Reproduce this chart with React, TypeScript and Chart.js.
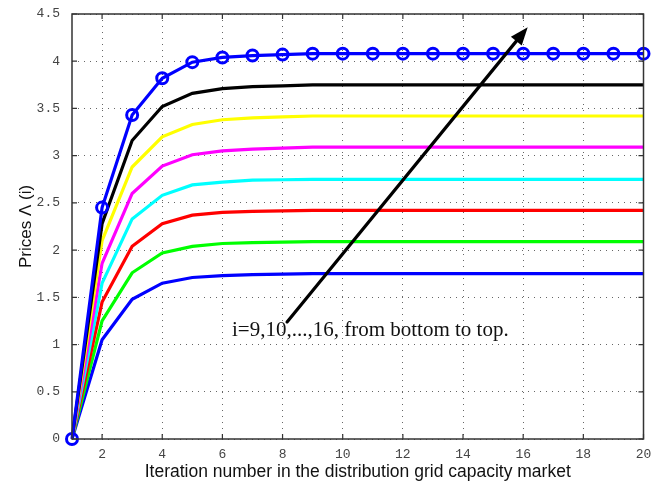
import React, { useEffect, useRef } from "react";
import { Chart, registerables } from "chart.js";

Chart.register(...registerables);

const iterations = [1, 2, 3, 4, 5, 6, 7, 8, 9, 10, 11, 12, 13, 14, 15, 16, 17, 18, 19, 20];
const xTickValues = [2, 4, 6, 8, 10, 12, 14, 16, 18, 20];
const yTickValues = [0, 0.5, 1, 1.5, 2, 2.5, 3, 3.5, 4, 4.5];

const price16 = [0, 2.45, 3.43, 3.82, 3.99, 4.04, 4.06, 4.07, 4.08, 4.08, 4.08, 4.08, 4.08, 4.08, 4.08, 4.08, 4.08, 4.08, 4.08, 4.08];
const price15 = [0, 2.28, 3.16, 3.52, 3.66, 3.71, 3.73, 3.74, 3.75, 3.75, 3.75, 3.75, 3.75, 3.75, 3.75, 3.75, 3.75, 3.75, 3.75, 3.75];
const price14 = [0, 2.1, 2.88, 3.2, 3.33, 3.38, 3.4, 3.41, 3.42, 3.42, 3.42, 3.42, 3.42, 3.42, 3.42, 3.42, 3.42, 3.42, 3.42, 3.42];
const price13 = [0, 1.86, 2.6, 2.89, 3.01, 3.05, 3.07, 3.08, 3.09, 3.09, 3.09, 3.09, 3.09, 3.09, 3.09, 3.09, 3.09, 3.09, 3.09, 3.09];
const price12 = [0, 1.65, 2.33, 2.58, 2.69, 2.72, 2.74, 2.745, 2.75, 2.75, 2.75, 2.75, 2.75, 2.75, 2.75, 2.75, 2.75, 2.75, 2.75, 2.75];
const price11 = [0, 1.45, 2.04, 2.28, 2.37, 2.4, 2.41, 2.415, 2.42, 2.42, 2.42, 2.42, 2.42, 2.42, 2.42, 2.42, 2.42, 2.42, 2.42, 2.42];
const price10 = [0, 1.25, 1.76, 1.97, 2.04, 2.07, 2.08, 2.085, 2.09, 2.09, 2.09, 2.09, 2.09, 2.09, 2.09, 2.09, 2.09, 2.09, 2.09, 2.09];
const price9 = [0, 1.05, 1.48, 1.65, 1.71, 1.73, 1.74, 1.745, 1.75, 1.75, 1.75, 1.75, 1.75, 1.75, 1.75, 1.75, 1.75, 1.75, 1.75, 1.75];

const seriesValues = [price16, price15, price14, price13, price12, price11, price10, price9];
const seriesColors = ["#0000ff", "#000000", "#ffff00", "#ff00ff", "#00ffff", "#ff0000", "#00ff00", "#0000ff"];
const seriesLabels = ["i=16", "i=15", "i=14", "i=13", "i=12", "i=11", "i=10", "i=9"];

const annotationText = "i=9,10,...,16, from bottom to top.";
const arrowFrom = { x: 8.15, y: 1.24 };
const arrowTo = { x: 16.15, y: 4.36 };
const textAnchor = { x: 6.32, y: 1.09 };

const framePlugin = {
  id: "frame",
  afterDraw(chart: any) {
    const { ctx, chartArea } = chart;
    const xs = chart.scales.x;
    const ys = chart.scales.y;
    ctx.save();
    ctx.strokeStyle = "#333";
    ctx.lineWidth = 1.2;
    const t = 5;
    ctx.beginPath();
    xTickValues.forEach((v) => {
      const px = xs.getPixelForValue(v);
      ctx.moveTo(px, chartArea.bottom);
      ctx.lineTo(px, chartArea.bottom - t);
      ctx.moveTo(px, chartArea.top);
      ctx.lineTo(px, chartArea.top + t);
    });
    yTickValues.forEach((v) => {
      const py = ys.getPixelForValue(v);
      ctx.moveTo(chartArea.left, py);
      ctx.lineTo(chartArea.left + t, py);
      ctx.moveTo(chartArea.right, py);
      ctx.lineTo(chartArea.right - t, py);
    });
    ctx.stroke();
    ctx.lineWidth = 1.5;
    ctx.strokeRect(chartArea.left, chartArea.top, chartArea.right - chartArea.left, chartArea.bottom - chartArea.top);
    ctx.restore();
  },
};

const annotationPlugin = {
  id: "arrowNote",
  afterDatasetsDraw(chart: any) {
    const { ctx } = chart;
    const xs = chart.scales.x;
    const ys = chart.scales.y;
    const x0 = xs.getPixelForValue(arrowFrom.x);
    const y0 = ys.getPixelForValue(arrowFrom.y);
    const x1 = xs.getPixelForValue(arrowTo.x);
    const y1 = ys.getPixelForValue(arrowTo.y);
    const ang = Math.atan2(y1 - y0, x1 - x0);
    const headLen = 18;
    const headW = 7;
    ctx.save();
    ctx.strokeStyle = "#000";
    ctx.fillStyle = "#000";
    ctx.lineWidth = 3.2;
    ctx.lineCap = "round";
    ctx.beginPath();
    ctx.moveTo(x0, y0);
    ctx.lineTo(x1 - Math.cos(ang) * headLen * 0.8, y1 - Math.sin(ang) * headLen * 0.8);
    ctx.stroke();
    const bx = x1 - Math.cos(ang) * headLen;
    const by = y1 - Math.sin(ang) * headLen;
    ctx.beginPath();
    ctx.moveTo(x1, y1);
    ctx.lineTo(bx + Math.sin(ang) * headW, by - Math.cos(ang) * headW);
    ctx.lineTo(bx - Math.sin(ang) * headW, by + Math.cos(ang) * headW);
    ctx.closePath();
    ctx.fill();
    const tx = xs.getPixelForValue(textAnchor.x);
    const ty = ys.getPixelForValue(textAnchor.y);
    ctx.font = '21px "Liberation Serif", "DejaVu Serif", serif';
    ctx.textAlign = "left";
    ctx.textBaseline = "alphabetic";
    ctx.fillStyle = "#111";
    ctx.fillText(annotationText, tx, ty);
    ctx.restore();
  },
};

export default function App() {
  const canvasRef = useRef<HTMLCanvasElement | null>(null);

  useEffect(() => {
    if (!canvasRef.current) return;
    const chart = new Chart(canvasRef.current, {
      type: "line",
      data: {
        labels: iterations,
        datasets: seriesValues.map((vals, i) => ({
          label: seriesLabels[i],
          data: vals.map((v, j) => ({ x: iterations[j], y: v })),
          borderColor: seriesColors[i],
          backgroundColor: seriesColors[i],
          borderWidth: 3.2,
          tension: 0,
          clip: i === 0 ? false : undefined,
          pointRadius: i === 0 ? 5.5 : 0,
          pointHoverRadius: i === 0 ? 5.5 : 0,
          pointBorderWidth: 3,
          pointBorderColor: seriesColors[i],
          pointBackgroundColor: "rgba(0,0,0,0)",
        })),
      },
      options: {
        animation: false,
        responsive: true,
        maintainAspectRatio: false,
        layout: { padding: { top: 14, right: 8, left: 0, bottom: 0 } },
        plugins: {
          legend: { display: false },
          tooltip: { enabled: false },
        },
        scales: {
          x: {
            type: "linear",
            min: 1,
            max: 20,
            afterBuildTicks: (scale: any) => {
              scale.ticks = xTickValues.map((v) => ({ value: v }));
            },
            afterFit: (scale: any) => {
              scale.height = 46;
              scale.paddingLeft = 0;
              scale.paddingRight = 0;
            },
            grid: {
              color: "#666",
              lineWidth: 1,
              drawTicks: false,
            },
            border: { display: false, dash: [1, 5] },
            ticks: {
              padding: 8,
              color: "#444",
              font: { family: '"Liberation Mono", "DejaVu Sans Mono", monospace', size: 13 },
              maxRotation: 0,
            },
            title: {
              display: true,
              text: "Iteration number in the distribution grid capacity market",
              color: "#111",
              font: { family: '"Liberation Sans", Arial, sans-serif', size: 17.5 },
              padding: { top: 0, bottom: 2 },
            },
          },
          y: {
            type: "linear",
            min: 0,
            max: 4.5,
            afterBuildTicks: (scale: any) => {
              scale.ticks = yTickValues.map((v) => ({ value: v }));
            },
            afterFit: (scale: any) => {
              scale.width = 72;
              scale.paddingTop = 0;
              scale.paddingBottom = 0;
            },
            grid: {
              color: "#666",
              lineWidth: 1,
              drawTicks: false,
            },
            border: { display: false, dash: [1, 5] },
            ticks: {
              padding: 12,
              color: "#444",
              font: { family: '"Liberation Mono", "DejaVu Sans Mono", monospace', size: 13 },
              callback: (v: any) => String(v),
            },
            title: {
              display: true,
              text: "Prices Λ (i)",
              color: "#111",
              font: { family: '"Liberation Sans", Arial, sans-serif', size: 17 },
              padding: { top: 16, bottom: 0 },
            },
          },
        },
      },
      plugins: [framePlugin, annotationPlugin],
    });
    return () => chart.destroy();
  }, []);

  return (
    <div style={{ position: "fixed", left: 0, top: 0, width: 652, height: 485, background: "#fff" }}>
      <canvas ref={canvasRef} />
    </div>
  );
}
